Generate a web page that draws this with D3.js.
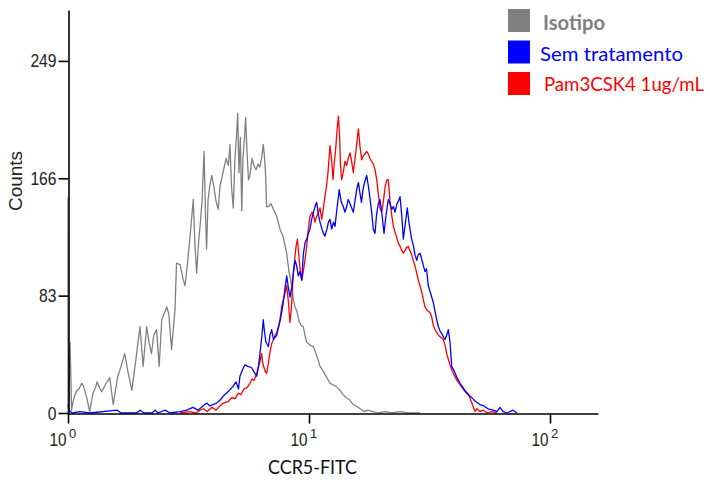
<!DOCTYPE html>
<html><head><meta charset="utf-8">
<script src="https://cdn.jsdelivr.net/npm/d3@7/dist/d3.min.js"></script>
<style>body{margin:0;background:#fff}svg{display:block}</style></head>
<body><svg id="c" width="710" height="485"></svg>
<script>
const seriesNames = ["Isotipo", "Sem tratamento", "Pam3CSK4 1ug/mL"];
const seriesColors = ["#808080", "#0000ff", "#ff0000"];
const xTicks = [1, 10, 100];
const yTicks = [0, 83, 166, 249];
const xLabel = "CCR5-FITC";
const yLabel = "Counts";

// [CCR5-FITC intensity, counts]
const isotipo = [[1.0,0],[1.0,152],[1.006,0],[1.02,50],[1.035,2],[1.05,8],[1.07,13],[1.09,16],[1.11,17],[1.14,21],[1.16,19],[1.2,10],[1.23,1],[1.27,14],[1.3,18],[1.32,22],[1.35,18],[1.38,15],[1.44,21],[1.49,25],[1.54,6],[1.58,18],[1.61,26],[1.66,33],[1.72,42],[1.77,30],[1.84,16],[1.92,40],[1.99,61],[2.05,33],[2.12,61],[2.17,50],[2.22,42],[2.27,55],[2.33,59],[2.39,33],[2.45,66],[2.57,75],[2.62,70],[2.69,45],[2.78,73],[2.82,106],[2.92,105],[3.0,95],[3.06,90],[3.15,110],[3.21,125],[3.31,151],[3.36,120],[3.42,99],[3.48,120],[3.53,132],[3.6,150],[3.67,185],[3.72,140],[3.76,116],[3.81,150],[3.87,160],[3.95,168],[4.03,160],[4.11,150],[4.2,144],[4.27,160],[4.41,171],[4.53,180],[4.63,175],[4.7,190],[4.77,160],[4.85,145],[4.93,180],[5.0,195],[5.06,212],[5.12,170],[5.19,195],[5.26,143],[5.32,180],[5.4,195],[5.46,209],[5.53,185],[5.61,165],[5.69,168],[5.8,180],[5.91,175],[6.03,172],[6.14,176],[6.26,174],[6.38,182],[6.46,190],[6.53,182],[6.6,170],[6.67,146],[6.79,146],[6.96,148],[7.12,144],[7.35,139],[7.58,130],[7.8,125],[8.08,113],[8.26,100],[8.48,90],[8.61,80],[8.75,75],[8.91,72],[9.09,65],[9.27,62],[9.47,61],[9.62,55],[9.78,50],[10.09,48],[10.42,47],[10.69,42],[10.89,38],[11.11,33],[11.43,30],[11.77,26],[12.22,21],[12.58,20],[12.94,19],[13.45,16],[13.84,13],[14.25,11],[14.8,9],[15.24,6],[15.67,5],[16.29,3],[16.91,1],[17.57,2],[18.44,1],[19.33,0],[20.66,1],[22.09,0],[23.86,1],[25.74,0],[28.88,0]];

const semTratamento = [[1.0,6],[1.01,2],[1.04,0],[1.12,1],[1.23,0],[1.6,2],[1.66,0],[1.93,0],[1.99,2],[2.07,0],[2.23,0],[2.3,2],[2.36,0],[2.53,2],[2.65,0],[2.92,1],[3.11,2],[3.3,4],[3.46,2],[3.63,5],[3.76,7],[3.88,5],[4.14,7],[4.27,9],[4.41,12],[4.61,15],[4.85,19],[4.98,22],[5.1,17],[5.17,26],[5.34,32],[5.42,34],[5.58,33],[5.78,32],[5.87,30],[6.07,26],[6.17,33],[6.26,42],[6.38,55],[6.46,66],[6.53,58],[6.63,50],[6.78,47],[6.89,55],[7.0,59],[7.12,52],[7.35,55],[7.58,65],[7.7,71],[7.82,78],[7.95,88],[8.08,97],[8.22,88],[8.34,82],[8.5,90],[8.62,100],[8.75,108],[8.89,104],[9.03,97],[9.18,100],[9.33,94],[9.47,112],[9.62,120],[9.78,123],[9.94,127],[10.09,130],[10.26,137],[10.44,142],[10.59,146],[10.76,149],[10.95,140],[11.11,135],[11.32,130],[11.48,127],[11.64,125],[11.87,130],[12.04,135],[12.22,137],[12.42,130],[12.64,135],[12.82,132],[13.07,145],[13.35,158],[13.58,150],[13.87,146],[14.1,142],[14.33,146],[14.55,151],[14.8,148],[15.03,145],[15.27,142],[15.52,150],[15.77,158],[16.03,163],[16.29,155],[16.51,149],[16.75,158],[17.0,163],[17.35,168],[17.65,160],[17.9,152],[18.2,142],[18.48,130],[18.79,127],[19.06,140],[19.39,148],[19.71,151],[20.09,140],[20.48,127],[20.88,140],[21.33,151],[21.68,148],[22.04,144],[22.39,146],[22.75,142],[23.18,148],[23.51,150],[23.86,153],[24.25,140],[24.63,123],[25.02,132],[25.57,145],[25.98,135],[26.36,128],[26.67,123],[27.14,118],[27.53,112],[27.98,108],[28.41,112],[28.88,113],[29.44,108],[29.85,104],[30.28,100],[30.73,102],[31.26,90],[31.78,86],[32.29,82],[32.8,78],[33.33,72],[33.88,66],[34.42,61],[34.98,58],[35.56,56],[36.08,54],[36.67,52],[37.26,55],[37.86,59],[38.47,50],[39.09,33],[39.97,30],[41.13,25],[42.34,21],[43.58,18],[44.79,15],[46.56,12],[47.91,10],[49.31,8],[51.23,6],[53.2,5],[55.29,3],[58.17,2],[60.25,1],[62.06,4],[63.85,1],[66.35,0],[70.22,2],[72.91,0]];

const pam3csk4 = [[2.92,0],[3.21,1],[3.4,0],[3.53,2],[3.65,3],[3.78,1],[3.96,4],[4.11,2],[4.27,5],[4.41,7],[4.61,8],[4.79,11],[4.93,10],[5.09,14],[5.22,13],[5.37,17],[5.53,18],[5.69,21],[5.8,24],[5.91,23],[6.07,28],[6.17,33],[6.26,36],[6.36,42],[6.43,35],[6.56,30],[6.67,28],[6.78,35],[6.89,43],[7.0,49],[7.12,52],[7.23,55],[7.35,57],[7.48,62],[7.58,66],[7.7,75],[7.82,80],[7.95,85],[8.08,90],[8.22,78],[8.34,64],[8.46,75],[8.58,95],[8.75,111],[8.84,118],[8.95,123],[9.09,110],[9.21,100],[9.33,94],[9.47,100],[9.62,108],[9.78,118],[9.94,130],[10.09,139],[10.29,142],[10.44,140],[10.59,135],[10.76,139],[10.95,142],[11.11,145],[11.29,137],[11.48,145],[11.64,153],[11.81,160],[11.99,170],[12.22,189],[12.4,180],[12.58,165],[12.7,175],[12.88,185],[13.07,200],[13.25,210],[13.4,195],[13.51,175],[13.66,165],[13.87,170],[14.1,178],[14.33,175],[14.55,180],[14.8,184],[15.03,178],[15.27,170],[15.52,180],[15.77,190],[16.03,201],[16.29,188],[16.55,179],[16.81,182],[17.06,183],[17.35,185],[17.65,183],[17.9,180],[18.2,178],[18.48,176],[18.79,172],[19.1,165],[19.39,155],[19.71,145],[20.04,142],[20.36,150],[20.7,160],[21.05,165],[21.33,165],[21.68,150],[22.04,140],[22.39,132],[22.75,128],[23.12,124],[23.48,120],[23.86,118],[24.25,115],[24.63,113],[25.02,115],[25.41,117],[25.8,118],[26.22,115],[26.67,112],[27.06,108],[27.53,104],[27.98,99],[28.41,94],[28.88,90],[29.34,86],[29.82,80],[30.28,75],[30.78,73],[31.26,72],[31.78,71],[32.29,68],[32.8,62],[33.33,59],[33.88,57],[34.42,55],[34.98,54],[35.56,53],[36.08,52],[36.67,48],[37.26,42],[37.86,38],[38.47,34],[39.21,30],[39.97,27],[41.13,23],[42.0,21],[43.2,18],[44.0,16],[45.1,14],[46.2,12],[46.9,9],[47.9,5],[48.8,1],[49.7,3],[51.2,1],[52.8,2],[54.9,0],[57.4,1],[60.2,0]];

const svg = d3.select("#c");
const x = d3.scaleLog().domain([1, Math.pow(10, 530/241)]).range([68, 598]);
const y = d3.scaleLinear().domain([0, 285]).range([413, 10]);

// curves: isotipo, pam3csk4, sem tratamento on top
const line = d3.line().x(d => x(d[0])).y(d => y(d[1]));
const draws = [[isotipo, seriesColors[0]], [pam3csk4, seriesColors[2]], [semTratamento, seriesColors[1]]];
svg.append("g").selectAll("path").data(draws).join("path")
  .attr("d", d => line(d[0])).attr("fill", "none").attr("stroke", d => d[1])
  .attr("stroke-width", 1.3).attr("stroke-linejoin", "round");

// y axis
const yAxis = svg.append("g").attr("transform", "translate(68.5,0)")
  .call(d3.axisLeft(y).tickValues(yTicks).tickSize(10).tickSizeOuter(0).tickFormat(d => d));
yAxis.select(".domain").attr("stroke", "#000").attr("stroke-width", 1.6);
yAxis.selectAll(".tick line").attr("stroke", "#000").attr("stroke-width", 1.6);
yAxis.selectAll(".tick text").attr("x", -12).attr("font-family", "Liberation Sans, Arial, sans-serif")
  .attr("font-size", 19).attr("fill", "#222")
  .attr("textLength", d => String(d).length * 8.7).attr("lengthAdjust", "spacingAndGlyphs");

// x axis
const xAxis = svg.append("g").attr("transform", "translate(0,413.5)")
  .call(d3.axisBottom(x).tickValues(xTicks).tickSize(10).tickSizeOuter(0).tickFormat(""));
xAxis.select(".domain").attr("stroke", "#000").attr("stroke-width", 1.6);
xAxis.selectAll(".tick line").attr("stroke", "#000").attr("stroke-width", 1.6);
xAxis.selectAll(".tick").each(function(d) {
  const g = d3.select(this);
  g.append("text").attr("x", -19).attr("y", 32).attr("text-anchor", "start").attr("fill", "#222")
    .attr("font-family", "Liberation Sans, Arial, sans-serif").attr("font-size", 18)
    .attr("textLength", 17).attr("lengthAdjust", "spacingAndGlyphs").text("10");
  g.append("text").attr("x", 0.5).attr("y", 24).attr("text-anchor", "start").attr("fill", "#222")
    .attr("font-family", "Liberation Sans, Arial, sans-serif").attr("font-size", 13)
    .text(Math.round(Math.log10(d)));
});

// axis titles
svg.append("text").attr("transform", "translate(22,181) rotate(-90)").attr("text-anchor", "middle")
  .attr("font-family", "Liberation Sans, Arial, sans-serif").attr("font-size", 19).attr("fill", "#222")
  .text(yLabel);
svg.append("text").attr("x", 268).attr("y", 474)
  .attr("font-family", "Lato, sans-serif").attr("font-size", 20).attr("fill", "#111")
  .attr("textLength", 89).attr("lengthAdjust", "spacingAndGlyphs").text(xLabel);

// legend
const legTextX = [543, 540, 544];
const legTextW = [62, 143, 160];
const leg = svg.append("g");
seriesNames.forEach((n, i) => {
  leg.append("rect").attr("x", 508).attr("y", 9 + i * 31.5).attr("width", 22).attr("height", 23)
    .attr("fill", seriesColors[i]);
  leg.append("text").attr("x", legTextX[i]).attr("y", 30 + i * 30.5)
    .attr("font-family", "Lato, sans-serif").attr("font-size", i === 2 ? 18.5 : 20)
    .attr("font-weight", i === 0 ? "bold" : "normal").attr("fill", seriesColors[i])
    .attr("textLength", legTextW[i]).attr("lengthAdjust", "spacingAndGlyphs").text(n);
});
</script></body></html>
